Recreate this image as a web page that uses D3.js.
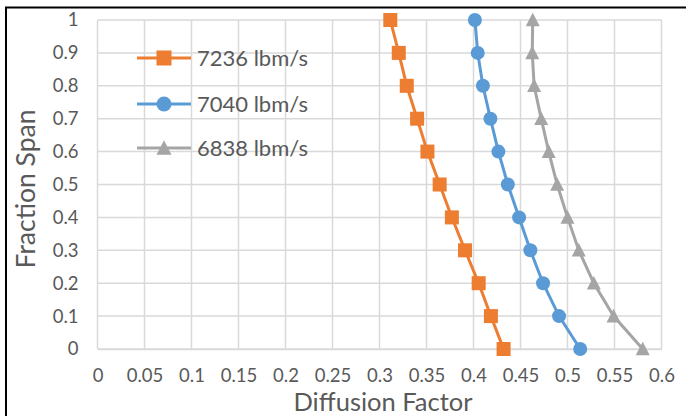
<!DOCTYPE html>
<html><head><meta charset="utf-8">
<script src="https://cdn.jsdelivr.net/npm/d3@7"></script>
<style>body{margin:0;background:#fff}svg{display:block}</style>
</head><body>
<svg id="c" width="686" height="416"></svg>
<script>
const spans = [0, 0.1, 0.2, 0.3, 0.4, 0.5, 0.6, 0.7, 0.8, 0.9, 1];
const df7236 = [0.432, 0.4185, 0.4055, 0.391, 0.377, 0.364, 0.351, 0.340, 0.329, 0.3205, 0.3115];
const df7040 = [0.5135, 0.491, 0.474, 0.4605, 0.4485, 0.4365, 0.4265, 0.418, 0.410, 0.4045, 0.4015];
const df6838 = [0.580, 0.549, 0.528, 0.512, 0.500, 0.489, 0.480, 0.472, 0.4645, 0.4625, 0.463];
const seriesNames = ["7236 lbm/s", "7040 lbm/s", "6838 lbm/s"];
const seriesColors = ["#ED7D31", "#5B9BD5", "#A5A5A5"];
const seriesMarkers = ["square", "circle", "triangle"];
const xTicks = [0, 0.05, 0.1, 0.15, 0.2, 0.25, 0.3, 0.35, 0.4, 0.45, 0.5, 0.55, 0.6];
const yTicks = [0, 0.1, 0.2, 0.3, 0.4, 0.5, 0.6, 0.7, 0.8, 0.9, 1];
const xTitle = "Diffusion Factor";
const yTitle = "Fraction Span";

const svg = d3.select("#c");
const font = "Lato, 'Open Sans', sans-serif";
const txt = "#595959";
const x = d3.scaleLinear().domain([0, 0.6]).range([97.5, 661.5]);
const y = d3.scaleLinear().domain([0, 1]).range([349, 20]);

// outer border
svg.append("rect").attr("x", 6).attr("y", 7.5).attr("width", 800).attr("height", 600)
  .attr("fill", "none").attr("stroke", "#000").attr("stroke-width", 2);

// gridlines
const g = svg.append("g");
g.selectAll(".vg").data(xTicks).join("line")
  .attr("x1", d => x(d)).attr("x2", d => x(d)).attr("y1", y(1)).attr("y2", y(0))
  .attr("stroke", "#d9d9d9").attr("stroke-width", 1.5);
g.selectAll(".hg").data(yTicks).join("line")
  .attr("y1", d => y(d)).attr("y2", d => y(d)).attr("x1", x(0)).attr("x2", x(0.6))
  .attr("stroke", "#d9d9d9").attr("stroke-width", 1.5);

// axes (labels only)
const xAxis = svg.append("g").attr("transform", `translate(0,${y(0)})`)
  .call(d3.axisBottom(x).tickValues(xTicks).tickFormat(d3.format("~g")).tickSize(0).tickPadding(20));
xAxis.select(".domain").attr("stroke", "#d9d9d9").attr("stroke-width", 1.5);
xAxis.selectAll("text").attr("font-family", font).attr("font-size", 18.5).attr("fill", txt);

const yAxis = svg.append("g").attr("transform", `translate(${x(0)},0)`)
  .call(d3.axisLeft(y).tickValues(yTicks).tickFormat(d3.format("~g")).tickSize(0).tickPadding(19));
yAxis.select(".domain").remove();
yAxis.selectAll("text").attr("font-family", font).attr("font-size", 18.5).attr("fill", txt);

// titles
svg.append("text").attr("x", 383).attr("y", 411).attr("text-anchor", "middle")
  .attr("font-family", font).attr("font-size", 25.5).attr("fill", txt).text(xTitle);
svg.append("text").attr("transform", "translate(35,189) rotate(-90)").attr("text-anchor", "middle")
  .attr("font-family", font).attr("font-size", 26.5).attr("fill", txt).text(yTitle);

// series
const allSeries = [df7236, df7040, df6838];
function marker(sel, type, color, size) {
  if (type === "square") {
    sel.append("rect").attr("x", -size/2).attr("y", -size/2).attr("width", size).attr("height", size).attr("fill", color);
  } else if (type === "circle") {
    sel.append("circle").attr("r", size/2).attr("fill", color);
  } else {
    const h = size * 0.9;
    sel.append("path").attr("d", `M0,${-h/2-1}L${size/2},${h/2}L${-size/2},${h/2}Z`).attr("fill", color);
  }
}
allSeries.forEach((vals, i) => {
  const pts = spans.map((s, k) => [vals[k], s]);
  svg.append("path").datum(pts)
    .attr("d", d3.line().x(d => x(d[0])).y(d => y(d[1])))
    .attr("fill", "none").attr("stroke", seriesColors[i]).attr("stroke-width", 3);
  svg.append("g").selectAll("g").data(pts).join("g")
    .attr("transform", d => `translate(${x(d[0])},${y(d[1])})`)
    .each(function() { marker(d3.select(this), seriesMarkers[i], seriesColors[i], 14); });
});

// legend
const legY = [58, 104, 148];
seriesNames.forEach((name, i) => {
  const lg = svg.append("g").attr("transform", `translate(0,${legY[i]})`);
  lg.append("line").attr("x1", 137).attr("x2", 191).attr("stroke", seriesColors[i]).attr("stroke-width", 3);
  const m = lg.append("g").attr("transform", "translate(164,0)");
  marker(m, seriesMarkers[i], seriesColors[i], 15);
  lg.append("text").attr("x", 197).attr("y", 0).attr("dy", "0.35em")
    .attr("font-family", font).attr("font-size", 22).attr("fill", txt).text(name);
});
</script>
</body></html>
